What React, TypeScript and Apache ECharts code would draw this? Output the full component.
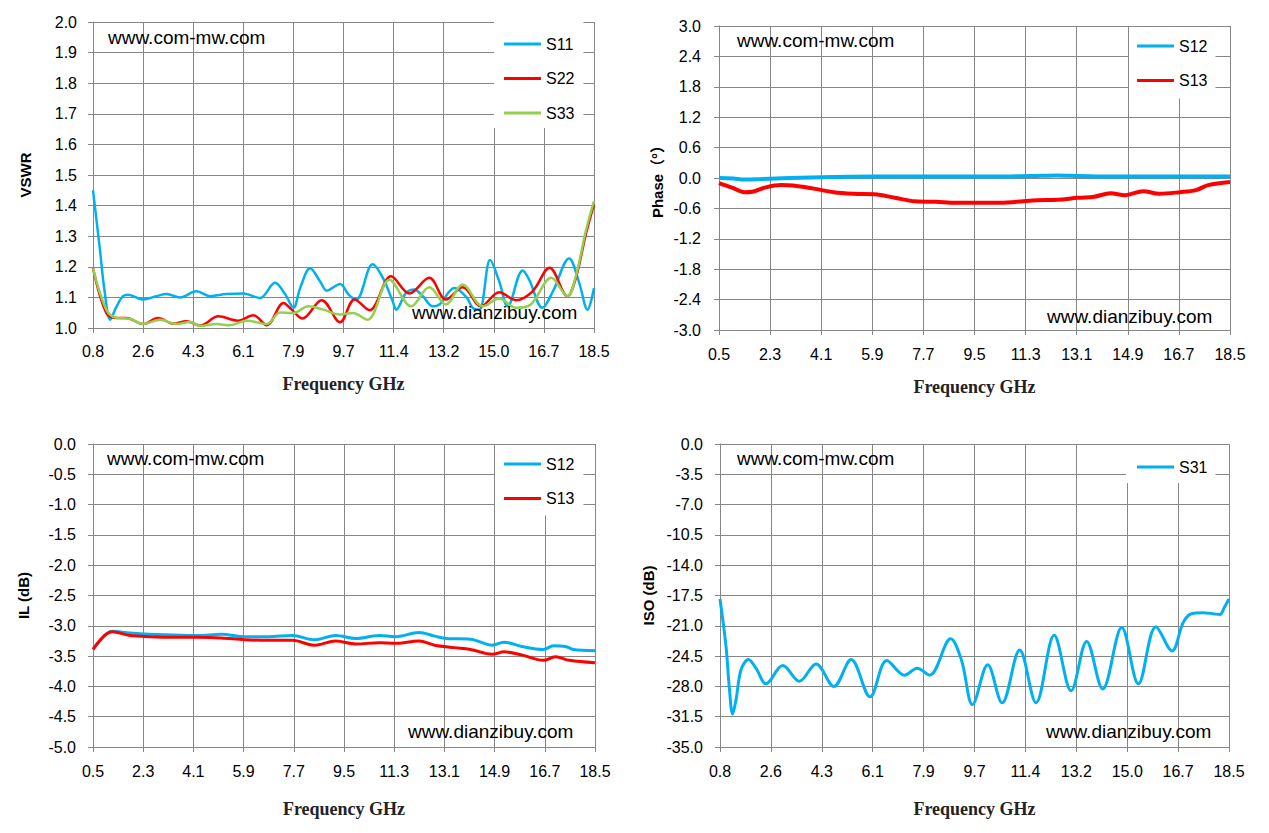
import { useEffect, useRef } from "react";
import * as echarts from "echarts";

type Pt = [number, number];

// x tick labels (Excel category style ticks)
const ticksA = ["0.8", "2.6", "4.3", "6.1", "7.9", "9.7", "11.4", "13.2", "15.0", "16.7", "18.5"];
const ticksB = ["0.5", "2.3", "4.1", "5.9", "7.7", "9.5", "11.3", "13.1", "14.9", "16.7", "18.5"];

// VSWR
const vswrS11: Pt[] = [
    [0.8, 1.45], [1.04, 1.26], [1.21, 1.12], [1.41, 1.027], [1.63, 1.07], [1.86, 1.104], [2.04, 1.109],
    [2.57, 1.093], [3.04, 1.104], [3.4, 1.111], [3.87, 1.1], [4.46, 1.12], [4.93, 1.104], [5.52, 1.111],
    [6.11, 1.113], [6.7, 1.098], [7.23, 1.148], [7.59, 1.11], [7.88, 1.066], [8.12, 1.131], [8.47, 1.195],
    [8.82, 1.153], [9.06, 1.122], [9.53, 1.144], [9.83, 1.109], [10.1, 1.093], [10.68, 1.208], [11.04, 1.164],
    [11.39, 1.087], [11.51, 1.06], [11.86, 1.115], [12.15, 1.126], [12.45, 1.104], [12.8, 1.071], [13.04, 1.077],
    [13.57, 1.131], [14.0, 1.1], [14.21, 1.066], [14.45, 1.06], [14.83, 1.222], [15.15, 1.153], [15.45, 1.071],
    [15.98, 1.188], [16.2, 1.16], [16.68, 1.066], [17.05, 1.12], [17.62, 1.227], [17.97, 1.15], [18.27, 1.06],
    [18.5, 1.131],
];
const vswrS22: Pt[] = [
    [0.8, 1.195], [1.27, 1.049], [1.63, 1.033], [1.98, 1.033], [2.57, 1.013], [3.1, 1.033], [3.63, 1.014],
    [4.1, 1.022], [4.58, 1.008], [5.23, 1.038], [5.93, 1.024], [6.46, 1.042], [6.94, 1.009], [7.53, 1.082],
    [7.82, 1.06], [8.2, 1.031], [8.88, 1.091], [9.53, 1.019], [10.04, 1.093], [10.57, 1.058], [11.33, 1.169],
    [11.98, 1.113], [12.68, 1.164], [13.27, 1.093], [13.86, 1.133], [14.51, 1.071], [15.15, 1.117],
    [15.74, 1.091], [16.33, 1.12], [16.93, 1.197], [17.56, 1.104], [17.86, 1.164], [18.21, 1.306], [18.5, 1.404],
];
const vswrS33: Pt[] = [
    [0.8, 1.195], [1.27, 1.06], [1.63, 1.033], [2.1, 1.03], [2.57, 1.013], [3.16, 1.027], [3.75, 1.013],
    [4.22, 1.02], [4.58, 1.007], [5.17, 1.013], [5.64, 1.009], [6.23, 1.024], [6.94, 1.013], [7.41, 1.051],
    [7.88, 1.049], [8.41, 1.071], [8.94, 1.06], [9.53, 1.044], [9.98, 1.049], [10.5, 1.027], [11.27, 1.158],
    [12.04, 1.071], [12.68, 1.133], [13.27, 1.077], [13.86, 1.142], [14.57, 1.071], [15.15, 1.096],
    [15.74, 1.066], [16.27, 1.077], [16.99, 1.164], [17.56, 1.104], [17.86, 1.17], [18.21, 1.317], [18.5, 1.415],
];

// Phase
const phaseS12: Pt[] = [
    [0.5, 0.0], [1.0, -0.01], [1.4, -0.03], [2.0, -0.02], [3.0, 0.0], [4.5, 0.02], [6.0, 0.03], [8.0, 0.03],
    [10.0, 0.03], [11.5, 0.04], [12.4, 0.05], [13.2, 0.04], [14.5, 0.03], [16.0, 0.03], [17.5, 0.03], [18.5, 0.03],
];
const phaseS13: Pt[] = [
    [0.5, -0.1], [0.96, -0.19], [1.39, -0.28], [1.68, -0.27], [2.11, -0.19], [2.68, -0.14], [3.11, -0.15],
    [3.83, -0.21], [4.54, -0.28], [5.26, -0.31], [5.98, -0.32], [6.69, -0.39], [7.41, -0.46], [8.13, -0.47],
    [8.84, -0.49], [9.56, -0.49], [10.28, -0.49], [10.99, -0.47], [11.71, -0.44], [12.43, -0.43], [13.15, -0.39],
    [13.72, -0.37], [14.29, -0.3], [14.8, -0.34], [15.44, -0.26], [16.01, -0.31], [16.73, -0.28], [17.3, -0.24],
    [17.73, -0.14], [18.5, -0.08],
];

// Insertion loss
const ilS12: Pt[] = [
    [0.5, -3.39], [1.19, -3.09], [1.83, -3.12], [2.54, -3.14], [3.39, -3.15], [4.24, -3.16], [5.1, -3.14],
    [5.95, -3.18], [6.8, -3.18], [7.65, -3.16], [8.43, -3.23], [9.21, -3.16], [9.92, -3.21], [10.77, -3.16],
    [11.33, -3.18], [12.19, -3.11], [12.75, -3.17], [13.18, -3.21], [14.03, -3.22], [14.81, -3.32],
    [15.24, -3.27], [15.87, -3.34], [16.65, -3.39], [17.01, -3.33], [17.44, -3.34], [17.72, -3.39], [18.5, -3.41],
];
const ilS13: Pt[] = [
    [0.5, -3.39], [1.19, -3.1], [1.83, -3.16], [2.54, -3.18], [3.39, -3.19], [4.24, -3.19], [5.1, -3.2],
    [5.95, -3.23], [6.8, -3.24], [7.65, -3.24], [8.43, -3.32], [9.21, -3.25], [9.92, -3.3], [10.77, -3.28],
    [11.33, -3.29], [12.19, -3.25], [12.75, -3.32], [13.46, -3.36], [14.03, -3.39], [14.81, -3.47],
    [15.24, -3.43], [15.87, -3.48], [16.65, -3.57], [17.08, -3.51], [17.58, -3.57], [18.5, -3.61],
];

// Isolation
const isoS31: Pt[] = [
    [0.8, -17.9], [1.01, -23.4], [1.12, -28.0], [1.24, -31.2], [1.36, -29.5], [1.53, -26.1], [1.79, -24.9],
    [2.05, -25.9], [2.4, -27.7], [2.98, -25.6], [3.56, -27.4], [4.14, -25.4], [4.76, -28.0], [5.36, -24.9],
    [6.02, -29.2], [6.6, -25.0], [7.22, -26.7], [7.66, -25.9], [8.09, -26.7], [8.82, -22.5], [9.2, -25.0],
    [9.58, -30.1], [10.11, -25.5], [10.61, -29.9], [11.22, -23.8], [11.79, -29.9], [12.42, -22.1],
    [13.01, -28.5], [13.55, -22.8], [14.11, -28.3], [14.77, -21.2], [15.35, -27.7], [15.96, -21.1],
    [16.52, -23.9], [16.91, -20.6], [17.2, -19.6], [17.6, -19.5], [17.95, -19.6], [18.18, -19.7],
    [18.35, -18.8], [18.5, -17.9],
];

const BLUE = "#00B0F0";
const RED = "#FF0000";
const GREEN = "#92D050";
const GRID = "#868686";
const SANS = "'Liberation Sans', Arial, sans-serif";

function xAxisFor(idx: number, labels: string[], margin: number, nameGap: number) {
    const min = parseFloat(labels[0]);
    const max = parseFloat(labels[labels.length - 1]);
    const step = (max - min) / (labels.length - 1);
    const vals = labels.map((_, i) => min + i * step);
    return {
        type: "value",
        gridIndex: idx,
        min,
        max,
        name: "Frequency GHz",
        nameLocation: "middle",
        nameGap,
        nameTextStyle: {
            fontFamily: "'Liberation Serif', serif",
            fontWeight: "bold",
            fontSize: 18,
            color: "#222",
        },
        axisLine: { show: true, onZero: false, lineStyle: { color: GRID, width: 1 } },
        axisTick: { show: true, length: 5, customValues: vals, lineStyle: { color: GRID } },
        axisLabel: {
            customValues: vals,
            margin,
            fontFamily: SANS,
            fontSize: 16,
            color: "#000",
            formatter: (v: number) => labels[Math.round((v - min) / step)],
        },
        splitLine: { show: true, lineStyle: { color: GRID, width: 1 } },
    };
}

function yAxisFor(idx: number, name: string, min: number, max: number, interval: number, margin: number, nameGap: number) {
    return {
        type: "value",
        gridIndex: idx,
        min,
        max,
        interval,
        name,
        nameLocation: "middle",
        nameGap,
        nameTextStyle: {
            fontFamily: SANS + ", 'Noto Sans CJK SC'",
            fontWeight: "bold",
            fontSize: 15,
            color: "#000",
        },
        axisLine: { show: true, lineStyle: { color: GRID, width: 1 } },
        axisTick: { show: true, length: 5, lineStyle: { color: GRID } },
        axisLabel: {
            margin,
            fontFamily: SANS,
            fontSize: 16,
            color: "#000",
            formatter: (v: number) => v.toFixed(1),
        },
        splitLine: { show: true, lineStyle: { color: GRID, width: 1 } },
    };
}

function legendFor(names: string[], left: number, top: number, padding: number[]) {
    return {
        data: names,
        orient: "vertical",
        left,
        top,
        icon: "rect",
        itemWidth: 37,
        itemHeight: 3,
        itemGap: 16.5,
        padding,
        backgroundColor: "#fff",
        selectedMode: false,
        textStyle: { fontFamily: SANS, fontSize: 16, color: "#000", lineHeight: 18 },
    };
}

function line(name: string, data: Pt[], idx: number, color: string, width: number) {
    return {
        name,
        type: "line",
        xAxisIndex: idx,
        yAxisIndex: idx,
        data,
        showSymbol: false,
        smooth: 0.35,
        lineStyle: { color, width },
        itemStyle: { color },
    };
}

function mark(x: number, y: number, text: string) {
    return {
        type: "text",
        x,
        y,
        z: 100,
        style: {
            text,
            fill: "#000",
            font: "19px 'Liberation Sans', Arial, sans-serif",
            verticalAlign: "middle",
        },
    };
}

export default function App() {
    const chartRef = useRef<HTMLDivElement>(null);

    useEffect(() => {
        if (!chartRef.current) return;
        const chart = echarts.init(chartRef.current, null, { renderer: "svg" });

        chart.setOption({
            animation: false,
            backgroundColor: "#fff",
            grid: [
                { left: 93, top: 22, width: 501, height: 306 },
                { left: 719, top: 26, width: 511, height: 304 },
                { left: 93, top: 444, width: 502, height: 303 },
                { left: 720, top: 444, width: 509, height: 303 },
            ],
            xAxis: [
                xAxisFor(0, ticksA, 15, 47),
                xAxisFor(1, ticksB, 16, 48),
                xAxisFor(2, ticksB, 16, 53),
                xAxisFor(3, ticksA, 16, 53),
            ],
            yAxis: [
                yAxisFor(0, "VSWR", 1, 2, 0.1, 16, 60),
                yAxisFor(1, "Phase（°）", -3, 3, 0.6, 18, 54),
                yAxisFor(2, "IL (dB)", -5, 0, 0.5, 17, 62),
                yAxisFor(3, "ISO (dB)", -35, 0, 3.5, 17, 64),
            ],
            legend: [
                legendFor(["S11", "S22", "S33"], 494, 22, [13, 9, 6, 10]),
                legendFor(["S12", "S13"], 1129, 27, [10, 8, 9, 8]),
                legendFor(["S12", "S13"], 495, 445, [10, 9, 8, 9]),
                legendFor(["S31"], 1126, 445, [13, 8, 7, 11]),
            ],
            series: [
                line("S11", vswrS11, 0, BLUE, 2.5),
                line("S22", vswrS22, 0, RED, 2.5),
                line("S33", vswrS33, 0, GREEN, 2.5),
                line("S12", phaseS12, 1, BLUE, 4),
                line("S13", phaseS13, 1, RED, 4),
                line("S12", ilS12, 2, BLUE, 3),
                line("S13", ilS13, 2, RED, 3),
                line("S31", isoS31, 3, BLUE, 3),
            ],
            graphic: [
                mark(108, 37, "www.com-mw.com"),
                mark(412, 312, "www.dianzibuy.com"),
                mark(737, 40, "www.com-mw.com"),
                mark(1047, 316, "www.dianzibuy.com"),
                mark(107, 458, "www.com-mw.com"),
                mark(408, 731, "www.dianzibuy.com"),
                mark(737, 458, "www.com-mw.com"),
                mark(1046, 731, "www.dianzibuy.com"),
            ],
        });

        return () => {
            chart.dispose();
        };
    }, []);

    return (
        <div
            ref={chartRef}
            style={{ position: "absolute", left: 0, top: 0, width: 1269, height: 833 }}
        />
    );
}
